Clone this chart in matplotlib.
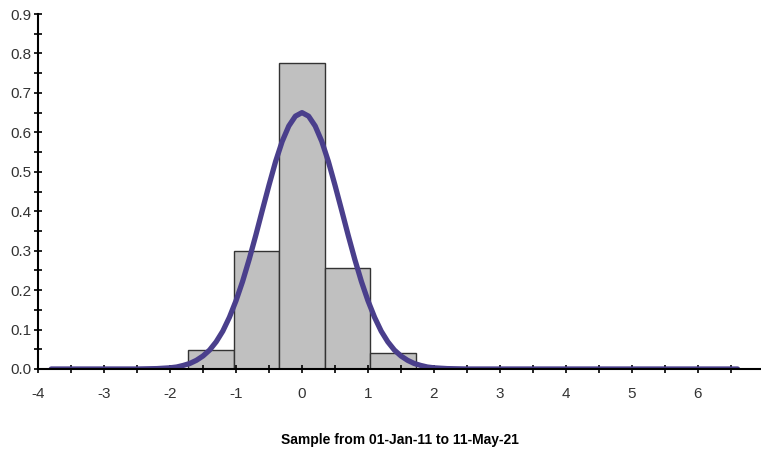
import numpy as np
import matplotlib.pyplot as plt
from matplotlib.ticker import MultipleLocator, FormatStrFormatter

# histogram bins (left edges), width and heights
bin_left = [-1.725, -1.035, -0.345, 0.345, 1.035]
bin_width = 0.69
bin_height = [0.048, 0.298, 0.776, 0.255, 0.041]

# fitted density curve
curve_x = [-3.8, -3.0, -2.5, -2.2, -2.0, -1.9, -1.8, -1.7, -1.6, -1.5, -1.4, -1.3,
           -1.2, -1.1, -1.0, -0.9, -0.8, -0.7, -0.6, -0.5, -0.4, -0.3, -0.2, -0.1,
           0.0, 0.1, 0.2, 0.3, 0.4, 0.5, 0.6, 0.7, 0.8, 0.9, 1.0, 1.1, 1.2, 1.3,
           1.4, 1.5, 1.6, 1.7, 1.8, 1.9, 2.0, 2.2, 2.5, 3.0, 4.0, 5.0, 6.0, 6.6]
curve_y = [0.0, 0.0, 0.0, 0.001, 0.003, 0.005, 0.009, 0.014, 0.022, 0.033, 0.048, 0.069,
           0.096, 0.131, 0.173, 0.222, 0.278, 0.339, 0.403, 0.466, 0.526, 0.577, 0.616, 0.641,
           0.650, 0.641, 0.616, 0.577, 0.526, 0.466, 0.403, 0.339, 0.278, 0.222, 0.173, 0.131,
           0.096, 0.069, 0.048, 0.033, 0.022, 0.014, 0.009, 0.005, 0.003, 0.001, 0.0, 0.0,
           0.0, 0.0, 0.0, 0.0]

plt.rcParams["font.family"] = ["Liberation Sans Narrow", "Liberation Sans", "DejaVu Sans"]
plt.rcParams["axes.unicode_minus"] = False

fig = plt.figure(figsize=(7.61, 4.55), dpi=100)
ax = fig.add_axes([38 / 761, 86 / 455, 1 - 38 / 761, 355 / 455])

ax.bar(bin_left, bin_height, width=bin_width, align="edge",
       color="#c0c0c0", edgecolor="#333333", linewidth=1.0, zorder=1)
ax.plot(curve_x, curve_y, color="#4a3f8c", linewidth=3.8,
        solid_capstyle="round", solid_joinstyle="round", zorder=2)

ax.set_xlim(-4, 6.955)
ax.set_ylim(0, 0.9)
ax.spines["top"].set_visible(False)
ax.spines["right"].set_visible(False)
for s in ("left", "bottom"):
    ax.spines[s].set_color("black")
    ax.spines[s].set_linewidth(1.5)

ax.xaxis.set_major_locator(MultipleLocator(1))
ax.xaxis.set_minor_locator(MultipleLocator(0.5))
ax.yaxis.set_major_locator(MultipleLocator(0.1))
ax.yaxis.set_minor_locator(MultipleLocator(0.05))
ax.yaxis.set_major_formatter(FormatStrFormatter("%.1f"))
ax.set_xticks([-4, -3, -2, -1, 0, 1, 2, 3, 4, 5, 6])
ax.tick_params(which="both", direction="inout", length=6, width=1.2,
               colors="black", labelcolor="#333333", labelsize=11)
ax.tick_params(axis="x", which="both", pad=10)
ax.tick_params(axis="y", which="both", pad=2)

fig.text(400 / 761, 1 - 440 / 455, "Sample from 01-Jan-11 to 11-May-21",
         ha="center", va="center", fontsize=10, fontweight="bold")

fig.savefig("out.png", dpi=100)
